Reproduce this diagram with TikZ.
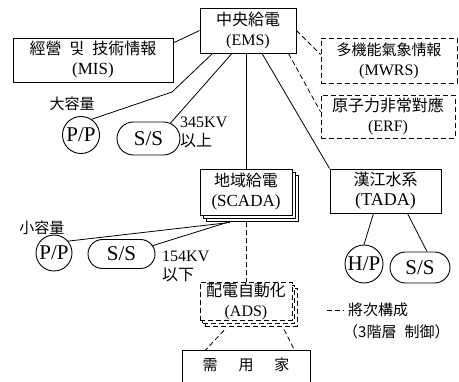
\documentclass[tikz,border=0pt]{standalone}
\usepackage{fontspec}
\setmainfont{Liberation Serif}
\newfontfamily\cjk{Noto Sans CJK KR}
\usetikzlibrary{shapes.misc,shadows,calc}
\begin{document}
\begin{tikzpicture}[x=1pt,y=-1pt,
  every node/.style={inner sep=0pt},
  box/.style={draw, line width=0.9pt, align=center, fill=white, font=\fontsize{16}{20}\selectfont},
  dbox/.style={box, dash pattern=on 5pt off 3pt},
  conn/.style={line width=0.8pt},
  dconn/.style={line width=0.8pt, dash pattern=on 5pt off 3pt},
  circ/.style={circle, draw, line width=0.9pt, inner sep=0pt, font=\fontsize{21}{21}\selectfont},
  pill/.style={rounded rectangle, draw, line width=0.9pt, inner sep=0pt, font=\fontsize{21}{21}\selectfont},
  cj/.style={font=\fontsize{15}{18}\selectfont\cjk},
]
\useasboundingbox (0,0) rectangle (459,382);

% main boxes
\node[box, minimum width=96pt, minimum height=45pt] (ems) at (248,30.5)
  {{\cjk 中央給電}\\(EMS)};
\node[box, minimum width=160pt, minimum height=44pt] (mis) at (93,60)
  {{\cjk 經營\hspace{8pt}및\hspace{8pt}技術情報}\\{\fontsize{17}{20}\selectfont(MIS)}};
\node[dbox, minimum width=136pt, minimum height=45pt] (mwrs) at (389,60.5)
  {{\fontsize{15}{18}\selectfont\cjk 多機能氣象情報}\\(MWRS)};
\node[dbox, minimum width=134pt, minimum height=43pt] (erf) at (388,116.5)
  {{\cjk 原子力非常對應}\\(ERF)};
\node[box, minimum width=92pt, minimum height=46pt,
  copy shadow={shadow xshift=6pt, shadow yshift=-6pt, line width=0.9pt},
  copy shadow={shadow xshift=3pt, shadow yshift=-3pt, line width=0.9pt}] (scada) at (246,192)
  {{\cjk 地域給電}\\{\fontsize{17}{20}\selectfont(SCADA)}};
\node[box, minimum width=111pt, minimum height=44pt] (tada) at (385.5,191)
  {{\cjk 漢江水系}\\{\fontsize{18}{20}\selectfont(TADA)}};
\node[dbox, minimum width=92pt, minimum height=38pt,
  copy shadow={shadow xshift=5pt, shadow yshift=-6pt, line width=0.9pt, dash pattern=on 5pt off 3pt},
  copy shadow={shadow xshift=2.5pt, shadow yshift=-3pt, line width=0.9pt, dash pattern=on 5pt off 3pt}] (ads) at (246,301)
  {{\cjk 配電自動化}\\(ADS)};
\node[draw, line width=0.9pt, anchor=north, minimum width=128pt, inner xsep=0pt, inner ysep=4pt,
  text height=16pt, text depth=30pt, font=\fontsize{15}{15}\selectfont\cjk] (demand) at (246,350)
  {需\hspace{21pt}用\hspace{21pt}家};

% plants and substations
\node[circ, minimum size=37pt] (pp1) at (81,135) {P/P};
\node[pill, minimum width=63pt, minimum height=33pt] (ss1) at (148.5,138.5) {S/S};
\node[circ, minimum size=36pt] (pp2) at (54,253) {P/P};
\node[pill, minimum width=67pt, minimum height=29pt] (ss2) at (121.5,254) {S/S};
\node[circ, minimum size=38pt] (hp) at (364,264) {H/P};
\node[pill, minimum width=60pt, minimum height=31pt] (ss3) at (420,267.5) {S/S};

% labels
\node[cj] (big) at (72,104) {大容量};
\node[cj] (small) at (42,228) {小容量};
\node[anchor=west, align=left, font=\fontsize{16}{19}\selectfont] (kv345) at (180,132) {345KV\\{\cjk 以上}};
\node[anchor=west, align=left, font=\fontsize{16}{19}\selectfont] (kv154) at (162,266) {154KV\\{\cjk 以下}};

% connectors
\coordinate (kink1) at (172,92);
\draw[conn] (mis.12) -- (ems.west);
\draw[conn] ([xshift=13pt]ems.south west) -- (kink1) -- (pp1.56);
\draw[conn] ([xshift=-16pt]ems.south) -- (ss1.35);
\draw[conn] (ems.south -| scada.north) -- (scada.north);
\draw[conn] ([xshift=14pt]ems.south) -- (tada.north west);
\draw[dconn] (ems.east) -- (mwrs.175);
\draw[dconn] ([xshift=-8pt]ems.south east) -- (erf.176);
\draw[conn] ($(scada.south)+(-16,7)$) -- (pp2.40);
\draw[conn] ($(scada.south)+(-19,7)$) -- (ss2.15);
\draw[conn] ([xshift=-12pt]tada.south) -- (hp.north);
\draw[conn] ([xshift=22pt]tada.south) -- ([xshift=7pt]ss3.north);
\draw[dconn] ($(scada.south)+(0,7)$) -- (ads.north);
\draw[dconn] ($(ads.south)+(-22,10)$) -- ([xshift=24pt]demand.north west);
\draw[dconn] ($(ads.south)+(38,9)$) -- ([xshift=-16pt]demand.north east);

% legend
\coordinate (lgA) at (327,310);
\coordinate (lgB) at (344,310);
\draw[dconn] (lgA) -- (lgB);
\node[cj, anchor=west] (lg1) at (348,310) {將次構成};
\node[cj, anchor=west] (lg2) at (343,332) {（3階層\hspace{8pt}制御）};
\end{tikzpicture}
\end{document}
